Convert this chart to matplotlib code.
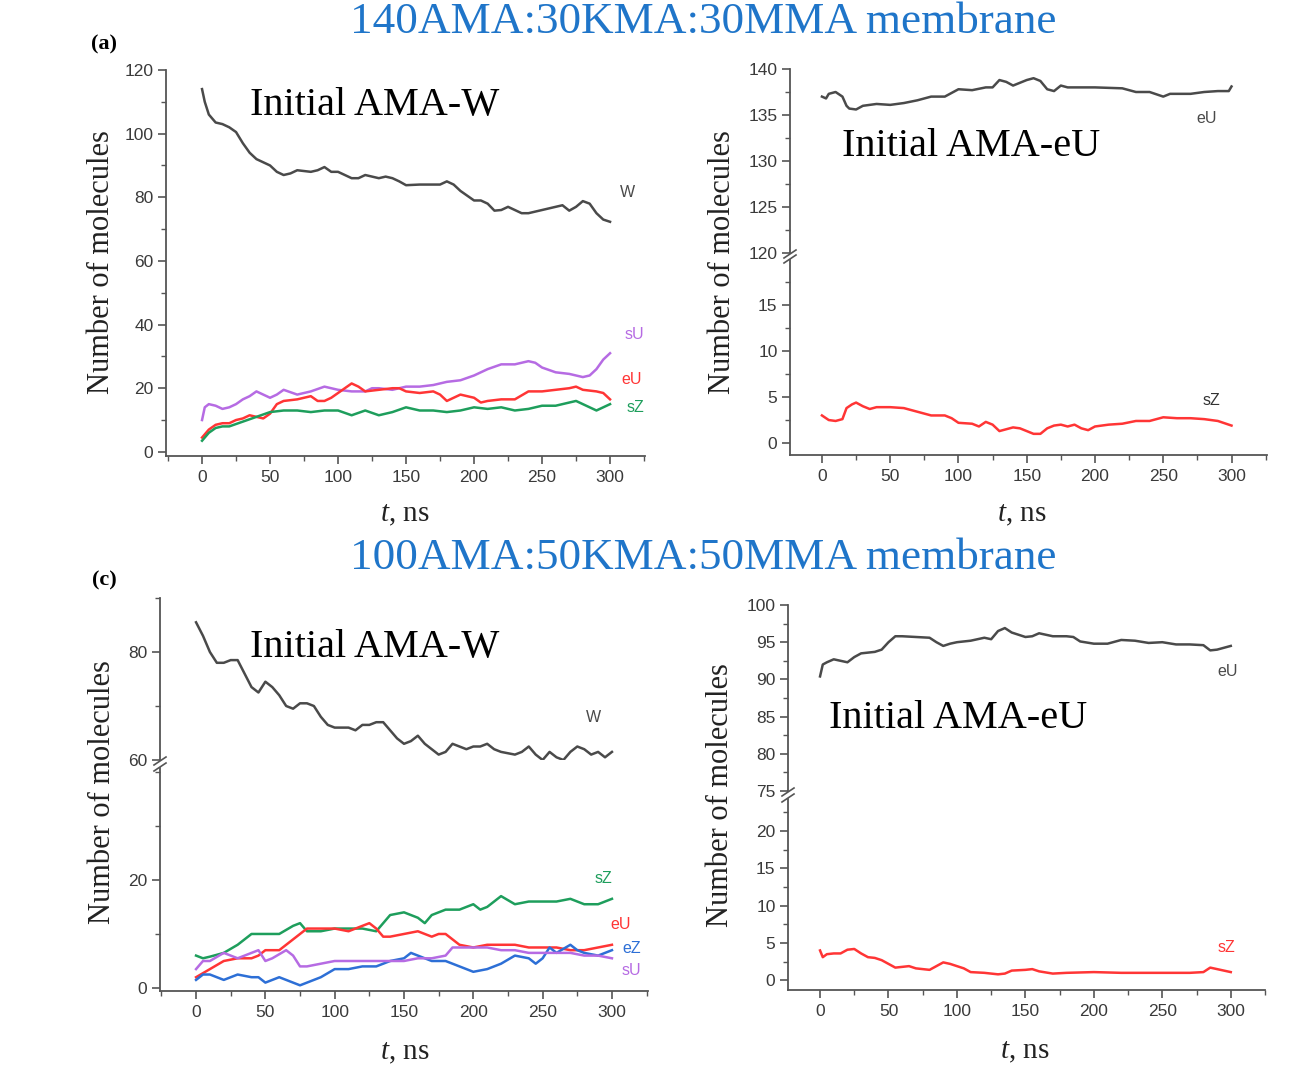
import matplotlib.pyplot as plt
from matplotlib.ticker import MultipleLocator
from matplotlib.lines import Line2D

# ---- panel (a): 140AMA:30KMA:30MMA, initial AMA-W ----
a_W_t = [0, 2, 5, 10, 15, 20, 25, 30, 35, 40, 45, 50, 55, 60, 65, 70, 80, 85, 90, 95, 100, 105, 110, 115,
         120, 130, 135, 140, 145, 150, 160, 170, 175, 180, 185, 190, 200, 205, 210, 215, 220, 225, 230, 235,
         240, 250, 260, 265, 270, 275, 280, 285, 290, 295, 300]
a_W = [114, 110, 106, 103.5, 103, 102, 100.5, 97, 94, 92, 91, 90, 88, 87, 87.5, 88.5, 88, 88.5, 89.5, 88, 88,
       87, 86, 86, 87, 86, 86.5, 86, 85, 83.8, 84, 84, 84, 85, 84, 82, 79, 79, 78, 75.8, 76, 77, 76, 75,
       75, 76, 77, 77.5, 75.8, 77, 78.8, 78, 75, 73, 72.3]
a_sU_t = [0, 2, 5, 10, 15, 20, 25, 30, 35, 40, 45, 50, 55, 60, 70, 80, 90, 95, 100, 110, 120, 125, 130, 140,
          150, 160, 170, 180, 190, 200, 210, 220, 230, 240, 245, 250, 260, 270, 280, 285, 290, 295, 300]
a_sU = [10, 14, 15, 14.5, 13.5, 14, 15, 16.5, 17.5, 19, 18, 17, 18, 19.5, 18, 19, 20.5, 20, 19.5, 19, 19, 20,
        20, 19.5, 20.5, 20.5, 21, 22, 22.5, 24, 26, 27.5, 27.5, 28.5, 28, 26.5, 25, 24.5, 23.5, 24, 26, 29, 31]
a_eU_t = [0, 5, 10, 15, 20, 25, 30, 35, 40, 45, 50, 55, 60, 70, 80, 85, 90, 95, 100, 105, 110, 115, 120, 130,
          140, 145, 150, 160, 170, 175, 180, 185, 190, 200, 205, 210, 220, 230, 240, 250, 260, 270, 275, 280,
          290, 295, 300]
a_eU = [4.5, 7, 8.5, 9, 9, 10, 10.5, 11.5, 11, 10.5, 12, 15, 16, 16.5, 17.5, 16, 16, 17, 18.5, 20, 21.5, 20.5,
        19, 19.5, 20, 20, 19, 18.5, 19, 18, 16, 17, 18, 17, 15.5, 16, 16.5, 16.5, 19, 19, 19.5, 20, 20.5,
        19.5, 19, 18.5, 16.5]
a_sZ_t = [0, 5, 10, 15, 20, 30, 40, 50, 60, 70, 80, 90, 100, 110, 120, 130, 140, 150, 160, 170, 180, 190, 200,
          210, 220, 230, 240, 250, 260, 270, 275, 280, 290, 300]
a_sZ = [3.5, 6, 7.5, 8, 8, 9.5, 11, 12.5, 13, 13, 12.5, 13, 13, 11.5, 13, 11.5, 12.5, 14, 13, 13, 12.5, 13, 14,
        13.5, 14, 13, 13.5, 14.5, 14.5, 15.5, 16, 15, 13, 15]

# ---- panel (b): 140AMA:30KMA:30MMA, initial AMA-eU ----
b_eU_t = [0, 3, 5, 10, 15, 18, 20, 25, 30, 40, 50, 60, 70, 80, 90, 100, 110, 120, 125, 130, 135, 140, 150, 155,
          160, 165, 170, 175, 180, 200, 220, 230, 240, 250, 255, 270, 280, 290, 298, 300]
b_eU = [137, 136.8, 137.3, 137.5, 137, 136, 135.7, 135.6, 136, 136.2, 136.1, 136.3, 136.6, 137, 137, 137.8,
        137.7, 138, 138, 138.8, 138.6, 138.2, 138.8, 139, 138.7, 137.8, 137.6, 138.2, 138, 138, 137.9, 137.5,
        137.5, 137, 137.3, 137.3, 137.5, 137.6, 137.6, 138.1]
b_sZ_t = [0, 5, 10, 15, 18, 22, 25, 30, 35, 40, 50, 60, 70, 80, 90, 95, 100, 110, 115, 120, 125, 130, 140, 145,
          150, 155, 160, 165, 170, 175, 180, 185, 190, 195, 200, 210, 220, 230, 240, 250, 260, 270, 280, 290, 300]
b_sZ = [3, 2.5, 2.4, 2.6, 3.8, 4.2, 4.4, 4, 3.7, 3.9, 3.9, 3.8, 3.4, 3, 3, 2.7, 2.2, 2.1, 1.8, 2.3, 2, 1.3, 1.7,
        1.6, 1.3, 1, 1, 1.6, 1.9, 2, 1.8, 2, 1.6, 1.4, 1.8, 2, 2.1, 2.4, 2.4, 2.8, 2.7, 2.7, 2.6, 2.4, 1.9]

# ---- panel (c): 100AMA:50KMA:50MMA, initial AMA-W ----
c_W_t = [0, 5, 10, 15, 20, 25, 30, 35, 40, 45, 50, 55, 60, 65, 70, 75, 80, 85, 90, 95, 100, 110, 115, 120, 125,
         130, 135, 140, 145, 150, 155, 160, 165, 170, 175, 180, 185, 190, 195, 200, 205, 210, 215, 220, 230,
         235, 240, 245, 250, 255, 260, 265, 270, 275, 280, 285, 290, 295, 300]
c_W = [85.5, 83, 80, 78, 78, 78.5, 78.5, 76, 73.5, 72.5, 74.5, 73.5, 72, 70, 69.5, 70.5, 70.5, 70, 68, 66.5,
       66, 66, 65.5, 66.5, 66.5, 67, 67, 65.5, 64, 63, 63.5, 64.5, 63, 62, 61, 61.5, 63, 62.5, 62, 62.5, 62.5,
       63, 62, 61.5, 61, 61.5, 62.5, 61, 60, 61.5, 60.5, 60, 61.5, 62.5, 62, 61, 61.5, 60.5, 61.5]
c_sZ_t = [0, 5, 10, 20, 30, 40, 50, 60, 70, 75, 80, 90, 100, 110, 120, 130, 140, 150, 160, 165, 170, 180, 190,
          200, 205, 210, 220, 230, 240, 250, 260, 270, 280, 290, 300]
c_sZ = [6, 5.5, 5.8, 6.5, 8, 10, 10, 10, 11.5, 12, 10.5, 10.5, 11, 11, 11, 10.5, 13.5, 14, 13, 12, 13.5, 14.5,
        14.5, 15.5, 14.5, 15, 17, 15.5, 16, 16, 16, 16.5, 15.5, 15.5, 16.5]
c_eU_t = [0, 10, 20, 30, 40, 45, 50, 60, 70, 80, 90, 100, 110, 120, 125, 130, 135, 140, 150, 160, 170, 175, 180,
          190, 200, 210, 220, 230, 240, 250, 260, 270, 280, 290, 300]
c_eU = [2, 3.5, 5, 5.5, 5.5, 6, 7, 7, 9, 11, 11, 11, 10.5, 11.5, 12, 11, 9.5, 9.5, 10, 10.5, 9.5, 10, 10, 8, 7.5,
        8, 8, 8, 7.5, 7.5, 7.5, 7, 7, 7.5, 8]
c_eZ_t = [0, 5, 10, 20, 30, 40, 45, 50, 55, 60, 70, 75, 80, 90, 100, 110, 120, 130, 140, 150, 155, 160, 170, 180,
          190, 200, 210, 220, 230, 240, 245, 250, 255, 260, 270, 275, 280, 290, 300]
c_eZ = [1.5, 2.5, 2.5, 1.5, 2.5, 2, 2, 1, 1.5, 2, 1, 0.5, 1, 2, 3.5, 3.5, 4, 4, 5, 5.5, 6.5, 6, 5, 5, 4, 3, 3.5,
        4.5, 6, 5.5, 4.5, 5.5, 7.5, 6.5, 8, 7, 6.5, 6, 7]
c_sU_t = [0, 5, 10, 20, 25, 30, 40, 45, 50, 55, 65, 70, 75, 80, 90, 100, 110, 120, 130, 140, 150, 160, 170, 180,
          185, 190, 200, 210, 220, 230, 240, 250, 260, 270, 280, 290, 300]
c_sU = [3.5, 5, 5, 6.5, 6, 5.5, 6.5, 7, 5, 5.5, 7, 6, 4, 4, 4.5, 5, 5, 5, 5, 5, 5, 5.5, 5.5, 6, 7.5, 7.5, 7.5,
        7.5, 7, 7, 6.5, 6.5, 6.5, 6.5, 6, 6, 5.5]

# ---- panel (d): 100AMA:50KMA:50MMA, initial AMA-eU ----
d_eU_t = [0, 2, 5, 10, 15, 20, 25, 30, 40, 45, 50, 55, 60, 70, 80, 85, 90, 95, 100, 110, 120, 125, 130, 135,
          140, 150, 155, 160, 170, 180, 185, 190, 200, 210, 220, 230, 240, 250, 260, 270, 280, 285, 290, 300]
d_eU = [90.4, 92, 92.3, 92.7, 92.5, 92.3, 93, 93.5, 93.7, 94, 95, 95.8, 95.8, 95.7, 95.6, 95, 94.5, 94.8, 95,
        95.2, 95.6, 95.4, 96.5, 96.9, 96.3, 95.7, 95.8, 96.2, 95.8, 95.8, 95.7, 95.1, 94.8, 94.8, 95.3, 95.2,
        94.9, 95, 94.7, 94.7, 94.6, 93.9, 94, 94.5]
d_sZ_t = [0, 2, 5, 10, 15, 20, 25, 30, 35, 40, 45, 50, 55, 60, 65, 70, 80, 85, 90, 95, 100, 105, 110, 120, 130,
          135, 140, 150, 155, 160, 170, 180, 200, 220, 250, 270, 280, 285, 290, 300]
d_sZ = [4, 3.1, 3.5, 3.6, 3.6, 4.1, 4.2, 3.6, 3.1, 3, 2.7, 2.2, 1.7, 1.8, 1.9, 1.6, 1.4, 1.9, 2.4, 2.2, 1.9, 1.6,
        1.1, 1, 0.8, 0.9, 1.3, 1.4, 1.5, 1.2, 0.9, 1, 1.1, 1, 1, 1, 1.1, 1.7, 1.5, 1.1]

titles = ['140AMA:30KMA:30MMA membrane', '100AMA:50KMA:50MMA membrane']

GRAY, RED, PURPLE, GREEN, BLUE = '#4a4a4a', '#ff3535', '#b66be3', '#1e9e5c', '#2d6fd6'
AX_COL, TICK_COL = '#555555', '#3a3a3a'
SERIF = 'Liberation Serif'

plt.rcParams['font.family'] = 'Liberation Sans'
plt.rcParams['mathtext.fontset'] = 'custom'
plt.rcParams['mathtext.it'] = 'Liberation Serif:italic'
plt.rcParams['mathtext.rm'] = 'Liberation Serif'

W, H = 1305, 1091
fig = plt.figure(figsize=(W / 100, H / 100), dpi=100)


def add_ax(l, t, r, b):
    return fig.add_axes([l / W, 1 - b / H, (r - l) / W, (b - t) / H])


def style(ax, xlim, bottom=True):
    ax.patch.set_alpha(0)
    for s in ['top', 'right']:
        ax.spines[s].set_visible(False)
    for s in ['left', 'bottom']:
        ax.spines[s].set_color(AX_COL)
        ax.spines[s].set_linewidth(1.3)
    ax.tick_params(which='major', direction='out', length=6, width=1.2, colors=AX_COL,
                   labelsize=12.5, labelcolor=TICK_COL, pad=3)
    ax.tick_params(which='minor', direction='out', length=3.5, width=1.0, colors=AX_COL)
    ax.set_xlim(*xlim)
    ax.xaxis.set_major_locator(MultipleLocator(50))
    ax.xaxis.set_minor_locator(MultipleLocator(25))
    if bottom:
        ax.tick_params(axis='x', pad=4)
    else:
        ax.spines['bottom'].set_visible(False)
        ax.tick_params(axis='x', which='both', bottom=False, labelbottom=False)


def break_marks(ax_top, ax_bot):
    # little "//" on the left spine, between the two halves
    p1, p2 = ax_top.get_position(), ax_bot.get_position()
    x = p1.x0
    dx, dy = 6 / W, 4 / H
    for y in (p1.y0 - 1 / H, p2.y1 + 1 / H):
        fig.add_artist(Line2D([x - dx, x + dx], [y - dy, y + dy], transform=fig.transFigure,
                              color=AX_COL, lw=1.2))


def ylab(x, y):
    fig.text(x / W, 1 - y / H, 'Number of molecules', rotation=90, ha='center', va='center',
             fontsize=22, family=SERIF, color='#222222')


def xlab(x, y):
    fig.text(x / W, 1 - y / H, r'$t$, ns', ha='center', va='center', fontsize=21,
             family=SERIF, color='#222222')


def initial(x, y, s):
    fig.text(x / W, 1 - y / H, s, ha='left', va='center', fontsize=29, family=SERIF, color='black')


def tag(ax, x, y, s, c):
    ax.text(x, y, s, color=c, fontsize=11.5, ha='center', va='center')


# ---------- (a) ----------
ax = add_ax(166, 70, 645, 456)
style(ax, (-26.5, 325.7))
ax.set_ylim(-1.3, 120)
ax.yaxis.set_major_locator(MultipleLocator(20))
ax.yaxis.set_minor_locator(MultipleLocator(10))
ax.plot(a_W_t, a_W, color=GRAY, lw=1.8)
ax.plot(a_sU_t, a_sU, color=PURPLE, lw=1.8)
ax.plot(a_eU_t, a_eU, color=RED, lw=1.8)
ax.plot(a_sZ_t, a_sZ, color=GREEN, lw=1.8)
tag(ax, 313, 81.5, 'W', GRAY)
tag(ax, 318, 36.8, 'sU', PURPLE)
tag(ax, 316, 22.6, 'eU', RED)
tag(ax, 319, 14, 'sZ', GREEN)

# ---------- (b) ----------
bt = add_ax(790, 69, 1267, 253)
bb = add_ax(790, 260, 1267, 455)
style(bt, (-23.4, 326), bottom=False)
style(bb, (-23.4, 326))
bt.set_ylim(120, 140)
bt.yaxis.set_major_locator(MultipleLocator(5))
bt.yaxis.set_minor_locator(MultipleLocator(2.5))
bb.set_ylim(-1.3, 19.9)
bb.set_yticks([0, 5, 10, 15])
bb.yaxis.set_minor_locator(MultipleLocator(2.5))
bt.plot(b_eU_t, b_eU, color=GRAY, lw=1.8)
bb.plot(b_sZ_t, b_sZ, color=RED, lw=1.8)
tag(bt, 282, 134.6, 'eU', GRAY)
tag(bb, 285, 4.6, 'sZ', '#333333')
break_marks(bt, bb)

# ---------- (c) ----------
ct = add_ax(160, 598, 648, 760)
cb = add_ax(160, 768, 648, 991)
style(ct, (-26, 326), bottom=False)
style(cb, (-26, 326))
ct.set_ylim(60, 90)
ct.set_yticks([60, 80])
ct.set_yticks([70, 90], minor=True)
cb.set_ylim(-0.55, 40.7)
cb.set_yticks([0, 20])
cb.set_yticks([10, 30, 40], minor=True)
ct.plot(c_W_t, c_W, color=GRAY, lw=1.8)
cb.plot(c_sZ_t, c_sZ, color=GREEN, lw=1.8)
cb.plot(c_eU_t, c_eU, color=RED, lw=1.8)
cb.plot(c_eZ_t, c_eZ, color=BLUE, lw=1.8)
cb.plot(c_sU_t, c_sU, color=PURPLE, lw=1.8)
tag(ct, 287, 67.8, 'W', GRAY)
tag(cb, 294, 20.2, 'sZ', GREEN)
tag(cb, 306, 11.7, 'eU', RED)
tag(cb, 314, 7.4, 'eZ', BLUE)
tag(cb, 314, 3.3, 'sU', PURPLE)
break_marks(ct, cb)

# ---------- (d) ----------
dt = add_ax(788, 605, 1265, 791)
db = add_ax(788, 799, 1265, 990)
style(dt, (-23.4, 325), bottom=False)
style(db, (-23.4, 325))
dt.set_ylim(75, 100)
dt.yaxis.set_major_locator(MultipleLocator(5))
dt.yaxis.set_minor_locator(MultipleLocator(2.5))
db.set_ylim(-1.3, 24.3)
db.set_yticks([0, 5, 10, 15, 20])
db.yaxis.set_minor_locator(MultipleLocator(2.5))
dt.plot(d_eU_t, d_eU, color=GRAY, lw=1.8)
db.plot(d_sZ_t, d_sZ, color=RED, lw=1.8)
tag(dt, 298, 91, 'eU', GRAY)
tag(db, 297, 4.4, 'sZ', RED)
break_marks(dt, db)

# ---------- texts ----------
for y, s in zip([22, 558], titles):
    fig.text(703 / W, 1 - y / H, s, ha='center', va='center', fontsize=32.5, family=SERIF, color='#1f75c9')

fig.text(104 / W, 1 - 44 / H, '(a)', ha='center', va='center', fontsize=16, family=SERIF, weight='bold')
fig.text(104 / W, 1 - 580 / H, '(c)', ha='center', va='center', fontsize=16, family=SERIF, weight='bold')

ylab(102, 262)
ylab(722, 262)
ylab(103, 792)
ylab(720, 795)
xlab(405, 515)
xlab(1022, 515)
xlab(405, 1053)
xlab(1025, 1052)

initial(250, 106, 'Initial AMA-W')
initial(842, 147, 'Initial AMA-eU')
initial(250, 648, 'Initial AMA-W')
initial(829, 719, 'Initial AMA-eU')

fig.savefig('out.png', dpi=100)
